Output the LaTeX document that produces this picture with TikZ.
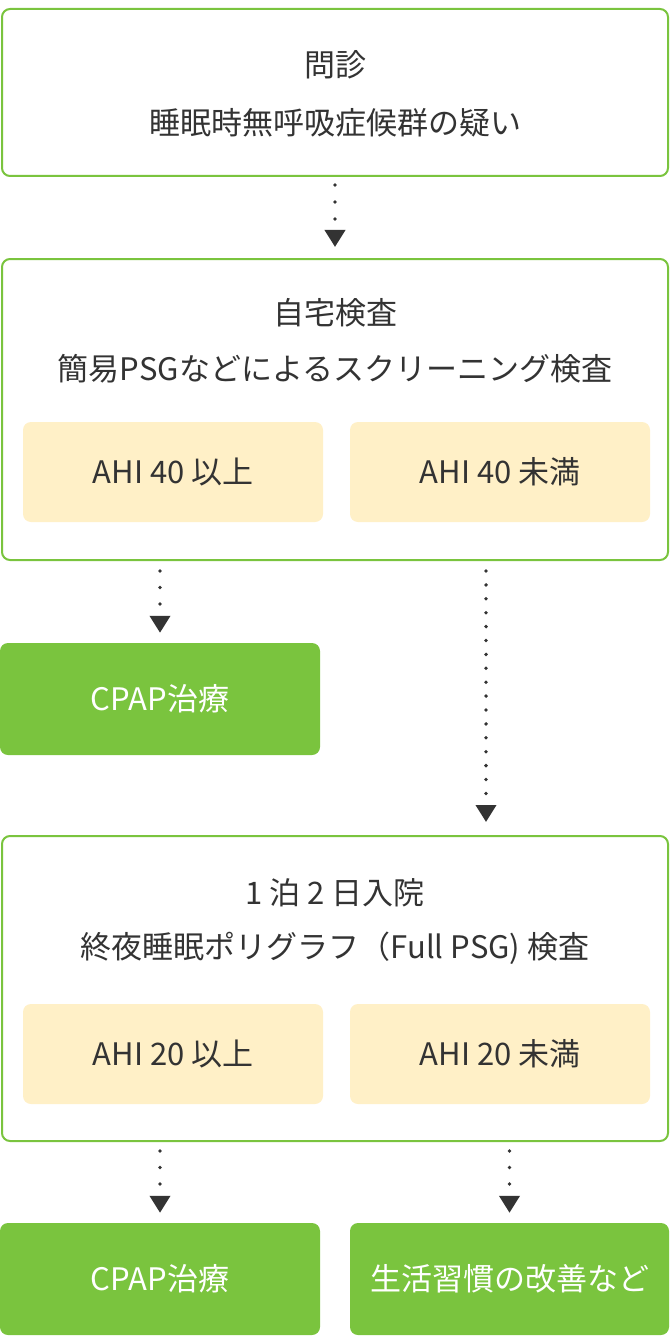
\documentclass[tikz,border=0pt]{standalone}
\usepackage{fontspec}
\newfontfamily\jpfont{Noto Sans CJK JP}
\usepackage{tikz}
\usetikzlibrary{arrows.meta}
\definecolor{ink}{HTML}{333333}
\definecolor{leaf}{HTML}{7AC43E}
\definecolor{cream}{HTML}{FFF0C7}

\begin{document}
\begin{tikzpicture}[x=1pt,y=-1pt,
  every node/.style={font=\jpfont\fontsize{31}{36}\selectfont,text=ink,inner sep=0pt},
  outerbox/.style={draw=leaf,line width=2pt,rounded corners=8pt,fill=white,minimum width=666pt},
  subbox/.style={fill=cream,rounded corners=8pt,minimum width=300pt,minimum height=100pt},
  resultbox/.style={fill=leaf,rounded corners=8pt,minimum height=112pt,text=white},
  flow/.style={ink,line width=3.8pt,line cap=round,dash pattern=on 0pt off #1,
    -{Triangle[length=17pt,width=20pt]}},
  flow/.default=16.5pt]
  \useasboundingbox (0,0) rectangle (670,1340);
  % interview
  \node[outerbox,minimum height=167pt] (intv) at (335,92.5) {};
  \node (intvT) at (335,65) {問診};
  \node (intvS) at (335,123) {睡眠時無呼吸症候群の疑い};
  % home test
  \node[outerbox,minimum height=301pt] (home) at (335,409.5) {};
  \node (homeT) at (335,313) {自宅検査};
  \node (homeS) at (335,369) {簡易PSGなどによるスクリーニング検査};
  \node[subbox] (homeHi) at (173,472) {AHI 40 以上};
  \node[subbox] (homeLo) at (500,472) {AHI 40 未満};
  \node[resultbox,minimum width=320pt] (cpapA) at (160,699) {CPAP治療};
  % hospital test
  \node[outerbox,minimum height=305pt] (psg) at (335,988.5) {};
  \node (psgT) at (335,893) {1 泊 2 日入院};
  \node (psgS) at (335,948) {終夜睡眠ポリグラフ（Full PSG) 検査};
  \node[subbox] (psgHi) at (173,1054) {AHI 20 以上};
  \node[subbox] (psgLo) at (500,1054) {AHI 20 未満};
  \node[resultbox,minimum width=320pt] (cpapB) at (160,1279) {CPAP治療};
  \node[resultbox,minimum width=319pt] (life) at (509.5,1279) {生活習慣の改善など};
  % connectors
  \coordinate (skip) at (486,700);
  \draw[flow=17pt,shorten <=8pt,shorten >=11pt] (intv.south) -- (home.north);
  \draw[flow,shorten <=10pt,shorten >=10pt] (cpapA.north |- home.south) -- (cpapA.north);
  \draw[flow=13.9pt,shorten <=10pt,shorten >=13pt] (home.south -| skip) -- (psg.north -| skip);
  \draw[flow,shorten <=9pt,shorten >=10pt] (cpapB.north |- psg.south) -- (cpapB.north);
  \draw[flow,shorten <=9pt,shorten >=10pt] (life.north |- psg.south) -- (life.north);
\end{tikzpicture}
\end{document}
